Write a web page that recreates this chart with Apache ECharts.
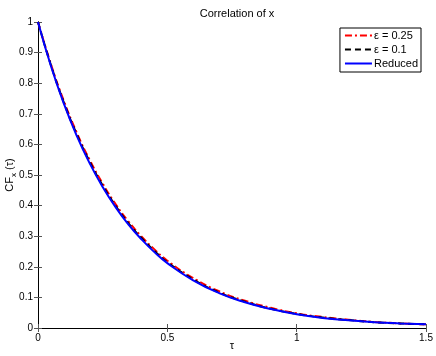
<!DOCTYPE html>
<html>
<head>
<meta charset="utf-8">
<script src="https://cdn.jsdelivr.net/npm/echarts@6/dist/echarts.min.js"></script>
<style>
  html, body { margin: 0; padding: 0; background: #fff; }
  #chart { width: 436px; height: 356px; }
</style>
</head>
<body>
<div id="chart"></div>
<script>
// values
const tau = [0, 0.05, 0.1, 0.15, 0.2, 0.25, 0.3, 0.35, 0.4, 0.45, 0.5, 0.6, 0.7, 0.8, 0.9, 1.0, 1.1, 1.2, 1.3, 1.4, 1.5];
const eps025 = [1.000, 0.862, 0.742, 0.638, 0.549, 0.472, 0.405, 0.348, 0.299, 0.257, 0.220, 0.163, 0.120, 0.089, 0.066, 0.048, 0.036, 0.027, 0.020, 0.015, 0.012];
const eps01 = [1.000, 0.859, 0.737, 0.633, 0.543, 0.466, 0.399, 0.342, 0.294, 0.252, 0.215, 0.159, 0.116, 0.086, 0.063, 0.046, 0.034, 0.026, 0.019, 0.015, 0.012];
const reduced = [1.000, 0.856, 0.733, 0.628, 0.538, 0.461, 0.395, 0.338, 0.290, 0.248, 0.212, 0.156, 0.114, 0.084, 0.062, 0.045, 0.033, 0.025, 0.019, 0.015, 0.012];
const xTicks = [0, 0.5, 1, 1.5];

const font = "Liberation Sans, Arial, sans-serif";
const pairs = ys => tau.map((t, i) => [t, ys[i]]);

const chart = echarts.init(document.getElementById("chart"));

const tickStyle = { show: true, inside: true, length: 4, lineStyle: { color: "#555" } };
const lineAxis = { show: true, lineStyle: { color: "#000", width: 1 } };

chart.setOption({
  animation: false,
  title: {
    text: "Correlation of x",
    left: 232,
    top: 3,
    textAlign: "center",
    textStyle: { fontFamily: font, fontSize: 11, fontWeight: "normal", color: "#000" }
  },
  legend: {
    right: 15,
    top: 28,
    orient: "vertical",
    backgroundColor: "#fff",
    borderColor: "#000",
    borderWidth: 1,
    padding: [2, 3, 3, 4],
    itemGap: 3,
    itemWidth: 27,
    itemHeight: 10,
    itemStyle: { opacity: 0 },
    textStyle: { fontFamily: font, fontSize: 11, color: "#000", padding: [0, 0, 0, -3] },
    data: ["ε = 0.25", "ε = 0.1", "Reduced"]
  },
  grid: { left: 38, top: 22, right: 10, bottom: 28, outerBoundsMode: "none", containLabel: false },
  xAxis: [
    {
      type: "value",
      min: 0,
      max: 1.5,
      interval: 0.5,
      name: "τ",
      nameLocation: "middle",
      nameGap: 12,
      nameMoveOverlap: false,
      nameTextStyle: { fontFamily: font, fontSize: 11, color: "#000" },
      axisLine: lineAxis,
      axisTick: tickStyle,
      splitLine: { show: false },
      axisLabel: {
        fontFamily: font, fontSize: 10, color: "#000", margin: 5,
        formatter: v => (xTicks.indexOf(v) >= 0 ? String(v) : "")
      }
    },
    {
      type: "value", position: "top", min: 0, max: 1.5, interval: 0.5,
      axisLine: lineAxis, axisTick: tickStyle, axisLabel: { show: false }, splitLine: { show: false }
    }
  ],
  yAxis: [
    {
      type: "value",
      min: 0,
      max: 1,
      interval: 0.1,
      name: "{n|CF}{s|x}{n| (τ)}",
      nameLocation: "middle",
      nameGap: 20,
      nameMoveOverlap: false,
      nameRotate: 90,
      nameTextStyle: {
        fontFamily: font, color: "#000",
        rich: {
          n: { fontFamily: font, fontSize: 11, color: "#000" },
          s: { fontFamily: font, fontSize: 8, color: "#000", verticalAlign: "bottom", padding: [8, 0, 0, 0] }
        }
      },
      axisLine: lineAxis,
      axisTick: tickStyle,
      splitLine: { show: false },
      axisLabel: {
        fontFamily: font, fontSize: 10, color: "#000", margin: 5,
        formatter: v => String(Math.round(v * 10) / 10)
      }
    },
    {
      type: "value", position: "right", min: 0, max: 1, interval: 0.1,
      axisLine: lineAxis, axisTick: tickStyle, axisLabel: { show: false }, splitLine: { show: false }
    }
  ],
  series: [
    {
      name: "ε = 0.25",
      type: "line",
      smooth: true,
      symbol: "none",
      data: pairs(eps025),
      lineStyle: { color: "#ff0000", width: 2, type: [7, 3, 2, 3] },
      itemStyle: { color: "#ff0000" }
    },
    {
      name: "ε = 0.1",
      type: "line",
      smooth: true,
      symbol: "none",
      data: pairs(eps01),
      lineStyle: { color: "#000", width: 2, type: [6, 4] },
      itemStyle: { color: "#000" }
    },
    {
      name: "Reduced",
      type: "line",
      smooth: true,
      symbol: "none",
      data: pairs(reduced),
      lineStyle: { color: "#0000ff", width: 2, type: "solid" },
      itemStyle: { color: "#0000ff" }
    }
  ]
});
</script>
</body>
</html>
